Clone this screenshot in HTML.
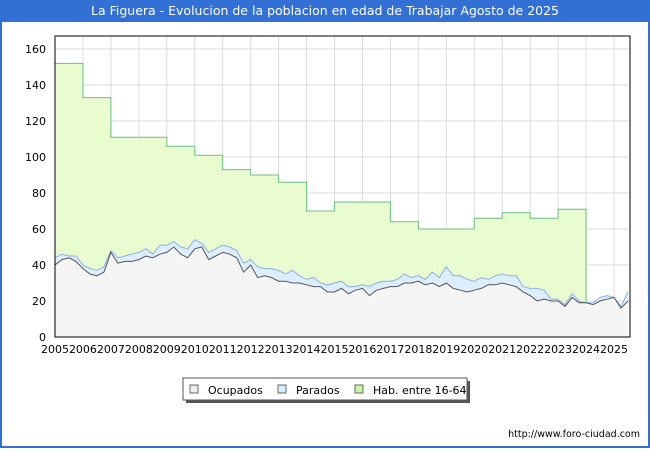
<!DOCTYPE html>
<html><head><meta charset="utf-8"><style>
body{margin:0;width:650px;height:450px;background:#fff;font-family:"DejaVu Sans","Liberation Sans",sans-serif;overflow:hidden}
#frame{position:absolute;left:0;top:0;width:646px;height:446px;border:2px solid #3370d6;border-top:none}
#title{position:absolute;left:0;top:0;width:650px;height:22px;background:#3370d6;color:#fff;font-size:12.5px;line-height:22px;text-align:center}
svg text{font-family:"DejaVu Sans","Liberation Sans",sans-serif}
</style></head><body>
<div id="frame"></div>
<div id="title">La Figuera - Evolucion de la poblacion en edad de Trabajar Agosto de 2025</div>
<svg id="chart" width="650" height="450" style="position:absolute;left:0;top:0"></svg>
<script>
const habYears=[2005,2006,2007,2008,2009,2010,2011,2012,2013,2014,2015,2016,2017,2018,2019,2020,2021,2022,2023];
const habValues=[152,133,111,111,106,101,93,90,86,70,75,75,64,60,60,66,69,66,71];
const ocupados=[40,43,44,42,38,35,34,36,47,41,42,42,43,45,44,46,47,50,46,44,49,50,43,45,47,46,44,36,40,33,34,33,31,31,30,30,29,28,28,25,25,27,24,26,27,23,26,27,28,28,30,30,31,29,30,28,30,27,26,25,26,27,29,29,30,29,28,25,23,20,21,20,20,17,22,19,19,18,20,21,22,16,20];
const totalActivos=[44,46,45,45,40,38,37,39,48,44,45,46,47,49,46,51,51,53,50,49,54,52,47,49,51,50,48,41,43,39,38,38,37,35,37,34,32,33,30,29,30,31,28,28,29,28,30,31,31,32,35,33,34,32,36,33,39,34,34,32,31,33,32,34,35,34,34,28,27,27,26,21,21,18,24,20,19,19,22,23,22,17,25];
const yTicks=[0,20,40,60,80,100,120,140,160];
const xTickYears=[2005,2006,2007,2008,2009,2010,2011,2012,2013,2014,2015,2016,2017,2018,2019,2020,2021,2022,2023,2024,2025];
const x0=55,x1=630,yb=337,yt=36;
const X=t=>x0+(t-2005)*27.95;
const Y=v=>yb-v*1.8;
const svg=document.getElementById('chart');const NS='http://www.w3.org/2000/svg';
function mk(tag,attrs,name,parent){const e=document.createElementNS(NS,tag);for(const k in attrs)e.setAttribute(k,attrs[k]);


(parent||svg).appendChild(e);return e;}
mk('rect',{x:x0,y:yt,width:x1-x0,height:yb-yt,fill:'#fff'},'plot-background');
yTicks.forEach(v=>{mk('line',{x1:x0,x2:x1,y1:Y(v),y2:Y(v),stroke:'#dcdcdc'},'y-gridline');
const t=mk('text',{x:x0-9,y:Y(v)+4,'text-anchor':'end','font-size':11,fill:'#000'},'y-tick-label');t.textContent=v;});
xTickYears.forEach(yr=>{mk('line',{x1:X(yr),x2:X(yr),y1:yt,y2:yb,stroke:'#dcdcdc'},'x-gridline');
const t=mk('text',{x:X(yr),y:yb+16,'text-anchor':'middle','font-size':11,fill:'#000'},'x-tick-label');t.textContent=yr;});
let hp='M'+X(2005)+','+yb;
habValues.forEach((v,i)=>{hp+=' L'+X(habYears[i])+','+Y(v)+' L'+X(habYears[i]+1)+','+Y(v);});
const endHab=X(habYears[habYears.length-1]+1);
mk('path',{d:hp+' L'+endHab+','+yb+' Z',fill:'#e8fcd0'},'hab-area');
let hl='M'+X(2005)+','+Y(habValues[0]);
habValues.forEach((v,i)=>{hl+=' L'+X(habYears[i])+','+Y(v)+' L'+X(habYears[i]+1)+','+Y(v);});
hl+=' L'+endHab+','+Y(totalActivos[76]);
mk('path',{d:hl,fill:'none',stroke:'#6cbf8a','stroke-width':1},'hab-line');
const tq=i=>X(2005+i*0.25);
function area(arr,fill,name){let d='M'+tq(0)+','+yb;arr.forEach((v,i)=>d+=' L'+tq(i)+','+Y(v));d+=' L'+tq(arr.length-1)+','+yb+' Z';mk('path',{d:d,fill:fill},name);}
function line(arr,stroke,name){let d='';arr.forEach((v,i)=>d+=(i?' L':'M')+tq(i)+','+Y(v));mk('path',{d:d,fill:'none',stroke:stroke,'stroke-width':1},name);}
area(totalActivos,'#ddeeff','parados-area');
area(ocupados,'#f5f5f5','ocupados-area');
line(totalActivos,'#8ab0e8','parados-line');
line(ocupados,'#555','ocupados-line');
mk('rect',{x:x0,y:yt,width:x1-x0,height:yb-yt,fill:'none',stroke:'#000','stroke-width':1},'plot-border');
const lg=mk('g',{},'legend');
mk('rect',{x:186,y:381,width:284,height:22,fill:'#555'},'legend-shadow',lg);
mk('rect',{x:183,y:378,width:284,height:22,fill:'#fff',stroke:'#555'},'legend-box',lg);
[['Ocupados','#eeeeee',190],['Parados','#ddeeff',278],['Hab. entre 16-64','#ccf5a8',355]].forEach(([n,c,x])=>{
const g=mk('g',{},'legend-entry',lg);
mk('rect',{x:x,y:385,width:8,height:8,fill:c,stroke:'#666'},'legend-swatch',g);
const t=mk('text',{x:x+18,y:394,'font-size':11,fill:'#000'},'legend-label',g);t.textContent=n;});
const u=mk('text',{x:640,y:437,'text-anchor':'end','font-size':9.5,fill:'#000'},'source-url');u.textContent='http://www.foro-ciudad.com';
</script>
</body></html>
